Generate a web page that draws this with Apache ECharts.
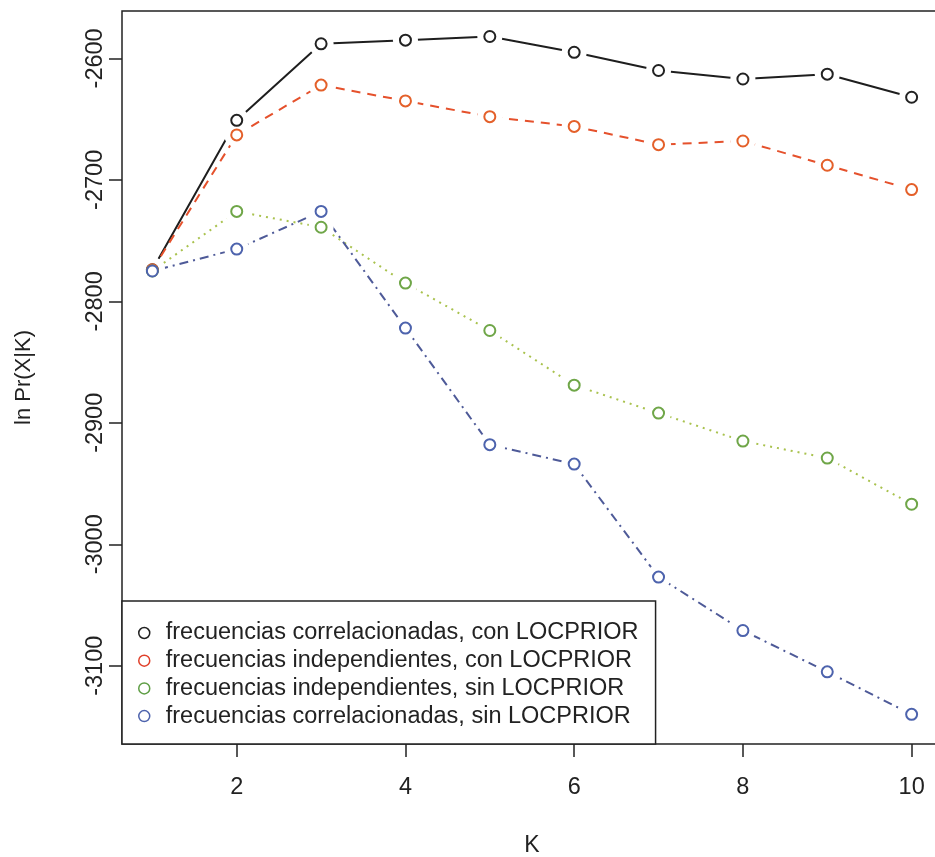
<!DOCTYPE html>
<html>
<head>
<meta charset="utf-8">
<script src="https://cdn.jsdelivr.net/npm/echarts@6/dist/echarts.min.js"></script>
<style>html,body{margin:0;padding:0;background:#fff}#c{width:935px;height:857px}</style>
</head>
<body>
<div id="c"></div>
<script>
const K = [1, 2, 3, 4, 5, 6, 7, 8, 9, 10];
const corrCon = [-2774, -2651, -2588, -2585, -2582, -2595, -2610, -2617, -2613, -2632];
const indepCon = [-2774, -2663, -2622, -2635, -2648, -2656, -2671, -2668, -2688, -2708];
const indepSin = [-2775, -2726, -2739, -2785, -2824, -2869, -2892, -2915, -2929, -2967];
const corrSin = [-2775, -2757, -2726, -2822, -2918, -2934, -3027, -3071, -3105, -3140];
const seriesNames = [
  'frecuencias correlacionadas, con LOCPRIOR',
  'frecuencias independientes, con LOCPRIOR',
  'frecuencias independientes, sin LOCPRIOR',
  'frecuencias correlacionadas, sin LOCPRIOR'
];
const xTicks = [2, 4, 6, 8, 10];
const yTicks = [-3100, -3000, -2900, -2800, -2700, -2600];

const allVals = [corrCon, indepCon, indepSin, corrSin];
const lineColors = ['#1e1e1e', '#e5512c', '#a9c24e', '#4e5a98'];
const markColors = ['#222222', '#e4602a', '#6fa648', '#4d63ad'];
const legendColors = ['#222222', '#e0402a', '#5f9e45', '#4d63ad'];
const dashes = ['solid', [9, 7], [2, 5], [2, 5, 9, 5]];

const series = [];
allVals.forEach((vals, i) => {
  const data = K.map((k, j) => [k, vals[j]]);
  series.push({
    name: '_line' + i, type: 'line', data: data, showSymbol: false, z: 1,
    lineStyle: {color: lineColors[i], width: 2, type: dashes[i]}, silent: true, animation: false
  });
  series.push({
    name: '_gap' + i, type: 'scatter', data: data, symbol: 'circle', symbolSize: 25, z: 2,
    itemStyle: {color: '#ffffff', opacity: 1}, silent: true, animation: false
  });
  series.push({
    name: seriesNames[i], type: 'scatter', data: data, symbol: 'circle', symbolSize: 11, z: 3,
    itemStyle: {color: '#ffffff', borderColor: markColors[i], borderWidth: 2, opacity: 1}, animation: false
  });
});

const chart = echarts.init(document.getElementById('c'), null, {renderer: 'canvas'});
chart.setOption({
  animation: false,
  backgroundColor: '#ffffff',
  grid: {left: 122, top: 11, width: 820, height: 733, show: true, borderColor: '#222', borderWidth: 1.5,
         backgroundColor: 'transparent', outerBoundsMode: 'none', containLabel: false},
  xAxis: {
    type: 'value', min: 0.64, max: 10.36,
    name: 'K', nameLocation: 'middle', nameGap: 90,
    nameTextStyle: {fontFamily: 'Liberation Sans', fontSize: 23, color: '#222'},
    axisLine: {show: false}, splitLine: {show: false},
    axisTick: {show: true, inside: false, length: 13, lineStyle: {color: '#222', width: 1.5}, customValues: xTicks},
    axisLabel: {customValues: xTicks, fontFamily: 'Liberation Sans', fontSize: 23.5, color: '#222', margin: 32,
                formatter: v => String(v)}
  },
  yAxis: {
    type: 'value', min: -3164.4, max: -2561,
    name: 'ln Pr(X|K)', nameLocation: 'middle', nameGap: 87, nameRotate: 90,
    nameTextStyle: {fontFamily: 'Liberation Sans', fontSize: 22, color: '#222'},
    axisLine: {show: false}, splitLine: {show: false},
    axisTick: {show: true, inside: false, length: 13, lineStyle: {color: '#222', width: 1.5}, customValues: yTicks},
    axisLabel: {customValues: yTicks, rotate: 90, fontFamily: 'Liberation Sans', fontSize: 23.5, color: '#222', margin: 14,
                formatter: v => String(v)}
  },
  legend: {
    orient: 'vertical', left: 122, top: 601,
    backgroundColor: '#ffffff', borderColor: '#222', borderWidth: 1.5,
    padding: [20, 17, 16, 16], itemGap: 3.7, itemWidth: 11, itemHeight: 11,
    selectedMode: false,
    textStyle: {fontFamily: 'Liberation Sans', fontSize: 23.5, color: '#222', lineHeight: 24, padding: [0, 0, 0, 11]},
    data: seriesNames.map((n, i) => ({
      name: n, icon: 'circle',
      itemStyle: {color: '#ffffff', borderColor: legendColors[i], borderWidth: 1.5}
    }))
  },
  series: series
});
</script>
</body>
</html>
